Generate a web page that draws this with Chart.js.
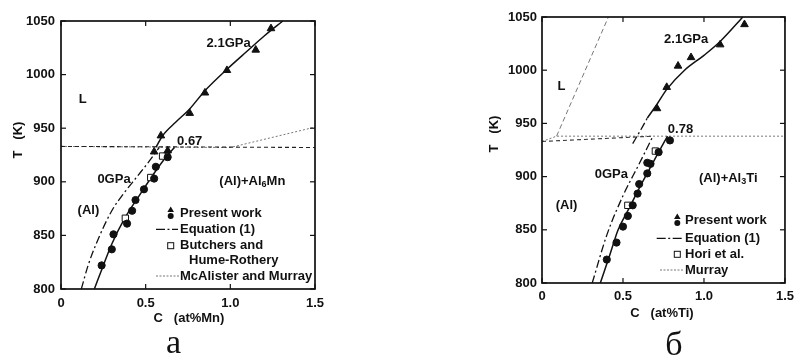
<!DOCTYPE html>
<html><head><meta charset="utf-8">
<script src="https://cdn.jsdelivr.net/npm/chart.js@4.4.1/dist/chart.umd.min.js"></script>
<style>
html,body{margin:0;padding:0;background:#fff;width:800px;height:363px;overflow:hidden}
.p{position:absolute;top:0;width:400px;height:363px}
canvas{display:block}
</style></head><body>
<div class="p" style="left:0"><canvas id="c1" width="400" height="363"></canvas></div>
<div class="p" style="left:400px"><canvas id="c2" width="400" height="363"></canvas></div>
<script>
// ---------- shared axes ----------
const xTickValues = [0, 0.5, 1.0, 1.5];
const xTickLabels = ['0', '0.5', '1.0', '1.5'];
const yTickValues = [800, 850, 900, 950, 1000, 1050];
const yTickLabels = ['800', '850', '900', '950', '1000', '1050'];

// ---------- panel a : Al-Mn ----------
const mnTriC = [0.55, 0.59, 0.63, 0.76, 0.85, 0.98, 1.15, 1.24];
const mnTriT = [928, 943, 929, 964, 983, 1004, 1023, 1043];
const mnCircC = [0.24, 0.30, 0.31, 0.39, 0.42, 0.44, 0.49, 0.55, 0.56, 0.63];
const mnCircT = [822, 837, 851, 861, 873, 883, 893, 903, 914, 923];
const mnSqC = [0.38, 0.53, 0.60];
const mnSqT = [866, 904, 924];
const mnEq0C = [0.12, 0.16, 0.21, 0.30, 0.37, 0.45, 0.52, 0.58];
const mnEq0T = [800, 822, 843, 873, 889, 905, 919, 932];
const mnFit0C = [0.197, 0.25, 0.30, 0.38, 0.47, 0.55, 0.61, 0.67];
const mnFit0T = [800, 822, 842, 867, 889, 908, 921, 932];
const mnFit21C = [0.56, 0.60, 0.68, 0.76, 0.85, 0.98, 1.10, 1.20, 1.31];
const mnFit21T = [932, 943, 956, 968, 985, 1005, 1022, 1036, 1050];
const mnEutC = [0, 1.5];
const mnEutT = [933, 932];
const mnRefC = [0, 1.0, 1.5];
const mnRefT = [933, 932, 951];

// ---------- panel б : Al-Ti ----------
const tiTriC = [0.71, 0.77, 0.84, 0.92, 1.10, 1.25];
const tiTriT = [964, 984, 1004, 1012, 1024, 1043];
const tiCircC = [0.40, 0.46, 0.50, 0.53, 0.56, 0.59, 0.60, 0.65, 0.65, 0.67, 0.72, 0.79];
const tiCircT = [822, 838, 853, 863, 873, 884, 893, 903, 913, 912, 923, 934];
const tiSqC = [0.53, 0.70];
const tiSqT = [873, 924];
const tiEq0C = [0.31, 0.40, 0.50, 0.60, 0.685];
const tiEq0T = [800, 845, 882, 912, 938];
const tiFit0C = [0.36, 0.42, 0.47, 0.53, 0.60, 0.66, 0.72, 0.775];
const tiFit0T = [800, 827, 850, 868, 889, 906, 923, 938];
const tiEq21C = [0.56, 0.61, 0.65];
const tiEq21T = [931, 944, 955];
const tiFit21C = [0.65, 0.71, 0.77, 0.88, 1.00, 1.10, 1.24];
const tiFit21T = [955, 968, 982, 1000, 1014, 1027, 1050];
const tiEutC = [0, 0.685];
const tiEutT = [933, 938];
const tiMurC = [0, 0.09, 1.5];
const tiMurT = [933, 938, 938];
const tiLiqC = [0.09, 0.41];
const tiLiqT = [938, 1050];

const zip = (a, b) => a.map((v, i) => ({x: v, y: b[i]}));
const FONT = '"Liberation Sans", Arial, sans-serif';

function pts(c, t, style, r, fill) {
  return {type: 'scatter', data: zip(c, t), pointStyle: style, pointRadius: r,
    pointBackgroundColor: fill, pointBorderColor: '#111', pointBorderWidth: 1,
    showLine: false, order: 0};
}
function ln(c, t, dash, color, w, smooth) {
  return {type: 'line', data: zip(c, t), borderColor: color, borderWidth: w,
    borderDash: dash, pointRadius: 0, showLine: true, fill: false,
    cubicInterpolationMode: smooth ? 'monotone' : 'default', tension: 0, order: 1};
}
const DASHDOT = [8, 3, 2, 3];
const DOT = [2, 2];
const DASH = [4, 3];

function drawRich(ctx, parts, cx, cy, size) {
  let w = 0;
  parts.forEach(p => { ctx.font = 'bold ' + (p.sub ? size - 4 : size) + 'px ' + FONT; w += ctx.measureText(p.t).width; });
  let x = cx - w / 2;
  ctx.textAlign = 'left'; ctx.textBaseline = 'middle';
  parts.forEach(p => {
    ctx.font = 'bold ' + (p.sub ? size - 4 : size) + 'px ' + FONT;
    ctx.fillText(p.t, x, cy + (p.sub ? 3 : 0));
    x += ctx.measureText(p.t).width;
  });
}

const deco = {
  id: 'deco',
  afterDraw(chart, args, o) {
    const {ctx, chartArea: a, scales: {x, y}} = chart;
    ctx.save();
    ctx.strokeStyle = '#111'; ctx.fillStyle = '#111';
    ctx.lineWidth = 1.2; ctx.setLineDash([]);
    const L = (x1, y1, x2, y2) => { ctx.beginPath(); ctx.moveTo(x1, y1); ctx.lineTo(x2, y2); ctx.stroke(); };
    xTickValues.forEach(v => { const p = x.getPixelForValue(v); L(p, a.bottom, p, a.bottom - 5); L(p, a.top, p, a.top + 5); });
    yTickValues.forEach(v => { const p = y.getPixelForValue(v); L(a.left, p, a.left + 5, p); L(a.right, p, a.right - 5, p); });
    ctx.lineWidth = 1.7;
    ctx.strokeRect(a.left, a.top, a.right - a.left, a.bottom - a.top);
    // region labels (data coordinates)
    o.labels.forEach(l => drawRich(ctx, l.parts, x.getPixelForValue(l.c), y.getPixelForValue(l.T), 13));
    // axis titles
    ctx.font = 'bold 13px ' + FONT; ctx.textAlign = 'center'; ctx.textBaseline = 'middle';
    ctx.fillText(o.xTitle, o.xTitlePos[0], o.xTitlePos[1]);
    ctx.save(); ctx.translate(o.yTitlePos[0], o.yTitlePos[1]); ctx.rotate(-Math.PI / 2);
    ctx.fillText(o.yTitle, 0, 0); ctx.restore();
    // legend
    const g = o.legend;
    ctx.font = 'bold 13px ' + FONT; ctx.textAlign = 'left'; ctx.textBaseline = 'middle';
    ctx.beginPath(); ctx.moveTo(g.mx, g.y0 - 6.5); ctx.lineTo(g.mx + 3.3, g.y0 - 1); ctx.lineTo(g.mx - 3.3, g.y0 - 1); ctx.closePath(); ctx.fill();
    ctx.beginPath(); ctx.arc(g.mx, g.y0 + 3, 3, 0, Math.PI * 2); ctx.fill();
    ctx.fillText('Present work', g.tx, g.y0);
    ctx.lineWidth = 1.3; ctx.setLineDash([9, 2.5, 2, 2.5]);
    L(g.l0, g.y1, g.l1, g.y1); ctx.setLineDash([]);
    ctx.fillText('Equation (1)', g.tx, g.y1);
    ctx.lineWidth = 1; ctx.fillStyle = '#fff';
    ctx.fillRect(g.mx - 3, g.y2 - 3, 6, 6); ctx.strokeRect(g.mx - 3, g.y2 - 3, 6, 6);
    ctx.fillStyle = '#111';
    g.sqText.forEach((t, i) => ctx.fillText(t, g.tx + (i ? g.indent : 0), g.y2 + i * 14.5));
    ctx.strokeStyle = '#777'; ctx.lineWidth = 1; ctx.setLineDash([2, 1.5]);
    L(g.d0, g.y3, g.d1, g.y3); ctx.setLineDash([]);
    ctx.fillText(g.dotText, g.tx, g.y3);
    // panel letter
    ctx.font = '34px "Liberation Serif", "Times New Roman", serif';
    ctx.textAlign = 'center'; ctx.textBaseline = 'alphabetic';
    ctx.fillText(o.letter, o.letterPos[0], o.letterPos[1]);
    ctx.restore();
  }
};

function makeChart(id, datasets, pad, yW, xH, plug, ypad, xpad) {
  return new Chart(document.getElementById(id), {
    data: {datasets},
    options: {
      responsive: false, animation: false, devicePixelRatio: 1,
      layout: {padding: pad},
      plugins: {legend: {display: false}, tooltip: {enabled: false}, deco: plug},
      scales: {
        x: {type: 'linear', min: 0, max: 1.5,
          afterBuildTicks: s => { s.ticks = xTickValues.map(v => ({value: v})); },
          afterFit: s => { s.height = xH; },
          grid: {display: false, drawTicks: false}, border: {display: false},
          ticks: {padding: xpad, color: '#111', font: {family: FONT, size: 13, weight: 'bold'},
            callback: (v) => xTickLabels[xTickValues.indexOf(v)]}},
        y: {type: 'linear', min: 800, max: 1050,
          afterBuildTicks: s => { s.ticks = yTickValues.map(v => ({value: v})); },
          afterFit: s => { s.width = yW; },
          grid: {display: false, drawTicks: false}, border: {display: false},
          ticks: {padding: ypad, color: '#111', font: {family: FONT, size: 13, weight: 'bold'},
            callback: (v) => yTickLabels[yTickValues.indexOf(v)]}}
      }
    },
    plugins: [deco]
  });
}

makeChart('c1', [
  pts(mnTriC, mnTriT, 'triangle', 4.4, '#111'),
  pts(mnCircC, mnCircT, 'circle', 3.6, '#111'),
  pts(mnSqC, mnSqT, 'rect', 4.5, '#fff'),
  ln(mnEq0C, mnEq0T, DASHDOT, '#111', 1.3, true),
  ln(mnFit0C, mnFit0T, [], '#111', 1.5, true),
  ln(mnFit21C, mnFit21T, [], '#111', 1.5, true),
  ln(mnEutC, mnEutT, DASH, '#222', 1.1, false),
  ln(mnRefC, mnRefT, DOT, '#777', 1, false)
], {top: 21, right: 85, left: 0, bottom: 0}, 61, 74, {
  labels: [
    {parts: [{t: 'L'}], c: 0.128, T: 977},
    {parts: [{t: '2.1GPa'}], c: 0.99, T: 1029.5},
    {parts: [{t: '0.67'}], c: 0.76, T: 938},
    {parts: [{t: '0GPa'}], c: 0.313, T: 902},
    {parts: [{t: '(Al)+Al'}, {t: '6', sub: true}, {t: 'Mn'}], c: 1.13, T: 900},
    {parts: [{t: '(Al)'}], c: 0.162, T: 873}
  ],
  xTitle: 'C   (at%Mn)', xTitlePos: [189, 318],
  yTitle: 'T   (K)', yTitlePos: [18, 140],
  legend: {mx: 170.7, tx: 180, y0: 213, y1: 229.3, y2: 245.7, y3: 276, l0: 156, l1: 178, d0: 156, d1: 179,
    indent: 9, sqText: ['Butchers and', 'Hume-Rothery'], dotText: 'McAlister and Murray'},
  letter: 'а', letterPos: [173.5, 353]
}, 6, 7);

makeChart('c2', [
  pts(tiTriC, tiTriT, 'triangle', 4.4, '#111'),
  pts(tiCircC, tiCircT, 'circle', 3.6, '#111'),
  pts(tiSqC, tiSqT, 'rect', 4.5, '#fff'),
  ln(tiEq0C, tiEq0T, DASHDOT, '#111', 1.3, true),
  ln(tiFit0C, tiFit0T, [], '#111', 1.5, true),
  ln(tiEq21C, tiEq21T, DASHDOT, '#111', 1.3, true),
  ln(tiFit21C, tiFit21T, [], '#111', 1.5, true),
  ln(tiEutC, tiEutT, DASH, '#333', 1.1, false),
  ln(tiMurC, tiMurT, DOT, '#777', 1, false),
  ln(tiLiqC, tiLiqT, [5, 3], '#777', 1, false)
], {top: 17, right: 8, left: 0, bottom: 0}, 142, 80, {
  labels: [
    {parts: [{t: 'L'}], c: 0.12, T: 985},
    {parts: [{t: '2.1GPa'}], c: 0.89, T: 1028.6},
    {parts: [{t: '0.78'}], c: 0.855, T: 944},
    {parts: [{t: '0GPa'}], c: 0.428, T: 901.6},
    {parts: [{t: '(Al)+Al'}, {t: '3', sub: true}, {t: 'Ti'}], c: 1.15, T: 898},
    {parts: [{t: '(Al)'}], c: 0.152, T: 872.7}
  ],
  xTitle: 'C   (at%Ti)', xTitlePos: [262, 313],
  yTitle: 'T   (K)', yTitlePos: [94.3, 134],
  legend: {mx: 277.3, tx: 285, y0: 220, y1: 238.3, y2: 254.3, y3: 270, l0: 256.7, l1: 283.3, d0: 260, d1: 284,
    indent: 0, sqText: ['Hori et al.'], dotText: 'Murray'},
  letter: 'б', letterPos: [274, 355]
}, 5, 6);
</script>
</body></html>
